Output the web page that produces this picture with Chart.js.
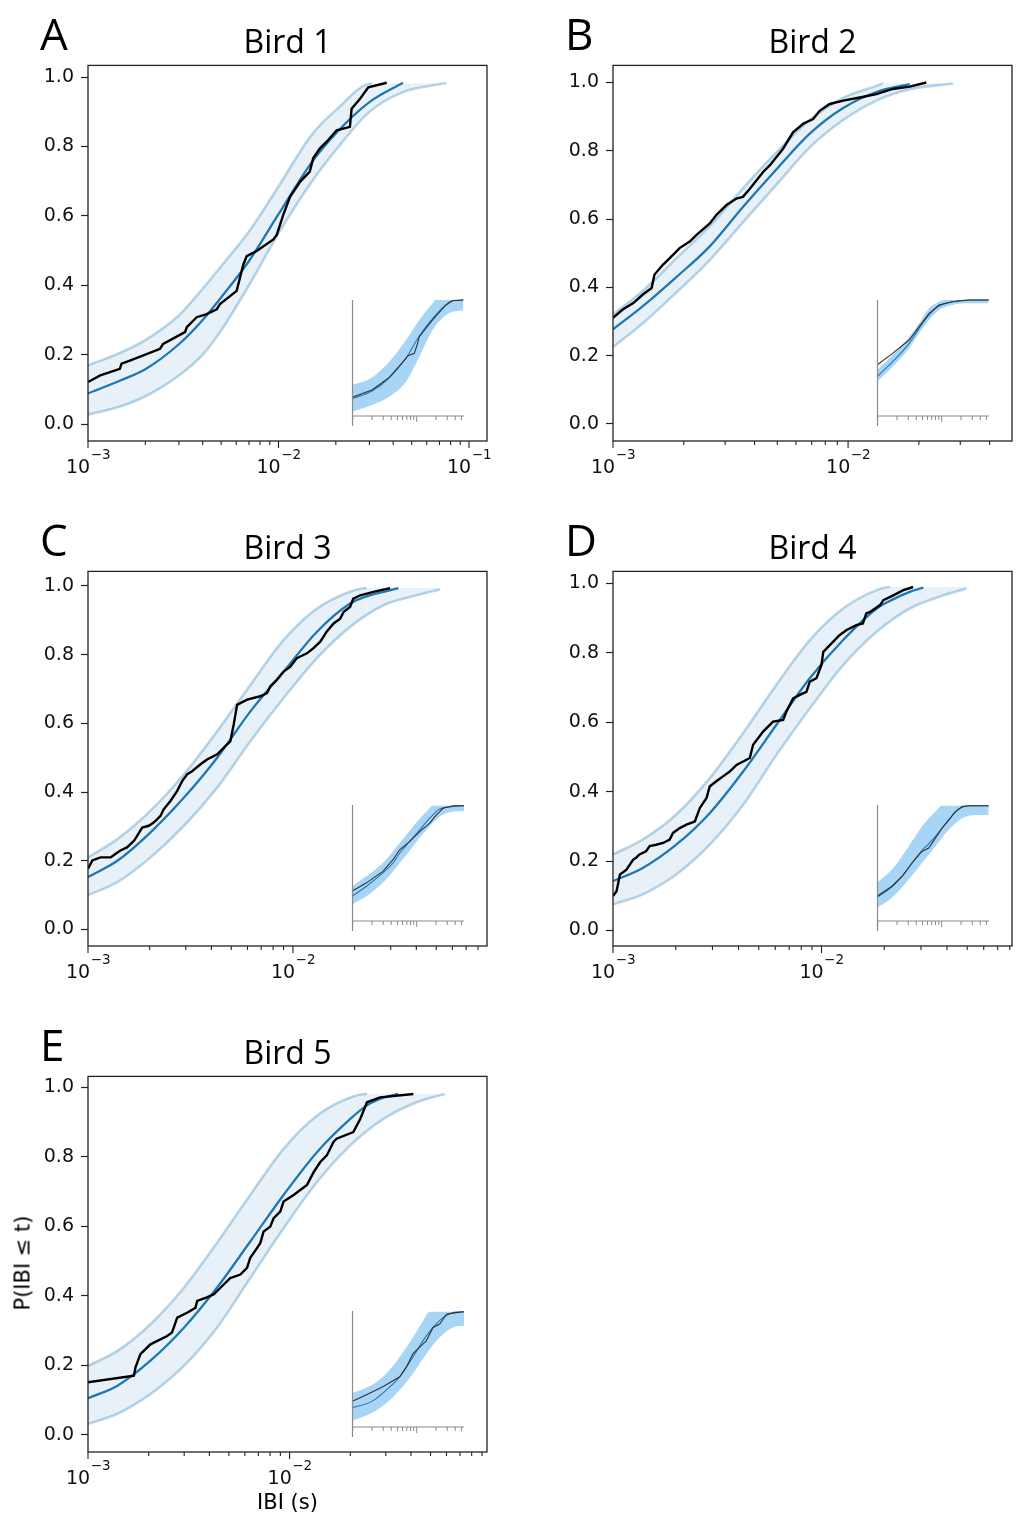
<!DOCTYPE html>
<html>
<head>
<meta charset="utf-8">
<script src="https://cdn.jsdelivr.net/npm/chart.js@4.4.1/dist/chart.umd.min.js"></script>
<style>
  body { margin: 0; background: #fff; }
  #fig { position: relative; width: 1019px; height: 1520px; overflow: hidden; background: #fff; }
  #fig canvas { position: absolute; }
  .txt { position: absolute; line-height: 1; white-space: nowrap; color: #000; }
</style>
</head>
<body>
<div id="fig"></div>
<script>
// tick labels / tick positions
const yTicks = [0, 0.2, 0.4, 0.6, 0.8, 1.0];
const xDecades = [0.001, 0.01, 0.1];
const xMinorMult = [2, 3, 4, 5, 6, 7, 8, 9];
const insetTicks = [0.001, 0.002, 0.003, 0.004, 0.005, 0.006, 0.007, 0.008, 0.009, 0.01, 0.02, 0.03, 0.04, 0.05];

// ---- Bird 1 (A)
const meanXA = [0.001, 0.0015, 0.002, 0.003, 0.004, 0.005, 0.007, 0.01, 0.015, 0.02, 0.03, 0.045];
const meanYA = [0.088, 0.127, 0.158, 0.23, 0.30, 0.365, 0.47, 0.605, 0.756, 0.838, 0.928, 0.984];
const hiXA = [0.001, 0.0015, 0.002, 0.003, 0.004, 0.005, 0.007, 0.01, 0.015, 0.02, 0.031];
const hiYA = [0.169, 0.207, 0.242, 0.313, 0.39, 0.455, 0.555, 0.685, 0.835, 0.905, 0.982];
const loXA = [0.001, 0.0015, 0.002, 0.003, 0.004, 0.005, 0.007, 0.01, 0.015, 0.02, 0.03, 0.045, 0.076];
const loYA = [0.027, 0.052, 0.08, 0.14, 0.20, 0.27, 0.40, 0.55, 0.70, 0.79, 0.90, 0.957, 0.983];
const obsXA = [0.001, 0.00116, 0.00147, 0.0015, 0.00166, 0.00239, 0.00248, 0.00323, 0.0033, 0.00372, 0.0042, 0.00474, 0.00493, 0.00603, 0.00654, 0.00681, 0.00768, 0.0094, 0.0098, 0.0106, 0.0115, 0.013, 0.0146, 0.0152, 0.0165, 0.0179, 0.0202, 0.0237, 0.0242, 0.0268, 0.0296, 0.037];
const obsYA = [0.121, 0.14, 0.159, 0.174, 0.183, 0.217, 0.231, 0.265, 0.279, 0.308, 0.317, 0.331, 0.346, 0.384, 0.46, 0.484, 0.499, 0.532, 0.546, 0.604, 0.655, 0.699, 0.728, 0.766, 0.795, 0.814, 0.847, 0.857, 0.909, 0.938, 0.971, 0.984];
const insObsXA = [0.000975, 0.002, 0.00373, 0.00681, 0.00721, 0.00917, 0.01033, 0.01099, 0.0177, 0.0287, 0.0364, 0.0535];
const insObsYA = [0.161, 0.224, 0.333, 0.497, 0.517, 0.54, 0.627, 0.684, 0.828, 0.957, 0.994, 1.0];
const insMeanXA = [0.000975, 0.002, 0.00373, 0.00681, 0.01099, 0.0177, 0.0287, 0.0364, 0.0535];
const insMeanYA = [0.15, 0.215, 0.33, 0.50, 0.69, 0.84, 0.96, 0.995, 1.0];
const insHiXA = [0.000975, 0.002, 0.00373, 0.00681, 0.01099, 0.0177, 0.0197, 0.0535];
const insHiYA = [0.267, 0.333, 0.468, 0.655, 0.828, 0.971, 1.0, 1.0];
const insLoXA = [0.000975, 0.002, 0.00373, 0.00681, 0.01099, 0.0177, 0.0287, 0.042, 0.0535];
const insLoYA = [0.037, 0.095, 0.167, 0.296, 0.511, 0.741, 0.871, 0.905, 0.91];

// ---- Bird 2 (B)
const meanXB = [0.001, 0.00134, 0.00186, 0.00258, 0.00357, 0.00495, 0.00687, 0.00953, 0.0132, 0.0183];
const meanYB = [0.277, 0.345, 0.43, 0.52, 0.635, 0.745, 0.85, 0.925, 0.972, 0.995];
const hiXB = [0.001, 0.00134, 0.00186, 0.00258, 0.00357, 0.00495, 0.00687, 0.00953, 0.0132, 0.0141];
const hiYB = [0.32, 0.39, 0.485, 0.58, 0.69, 0.795, 0.89, 0.955, 0.99, 0.997];
const loXB = [0.001, 0.00134, 0.00186, 0.00258, 0.00357, 0.00495, 0.00687, 0.00953, 0.0132, 0.0183, 0.028];
const loYB = [0.225, 0.295, 0.385, 0.48, 0.59, 0.70, 0.81, 0.89, 0.947, 0.98, 0.997];
const obsXB = [0.001, 0.0011, 0.00122, 0.00134, 0.00146, 0.0015, 0.00163, 0.0018, 0.00192, 0.00212, 0.00226, 0.00258, 0.00275, 0.00304, 0.00335, 0.00357, 0.00382, 0.00435, 0.00464, 0.00529, 0.00583, 0.00644, 0.0071, 0.00757, 0.00835, 0.00953, 0.0112, 0.0132, 0.0155, 0.0183, 0.0215];
const obsYB = [0.311, 0.335, 0.354, 0.379, 0.398, 0.437, 0.466, 0.495, 0.515, 0.534, 0.553, 0.587, 0.612, 0.641, 0.66, 0.665, 0.689, 0.738, 0.757, 0.806, 0.854, 0.879, 0.893, 0.917, 0.937, 0.947, 0.956, 0.966, 0.981, 0.988, 1.0];
const insObsXB = [0.000976, 0.00171, 0.0031, 0.00444, 0.00635, 0.00908, 0.0147, 0.0266, 0.0542];
const insObsYB = [0.44, 0.54, 0.655, 0.77, 0.885, 0.957, 0.985, 1.0, 1.0];
const insMeanXB = [0.000976, 0.00171, 0.0031, 0.00444, 0.00635, 0.00908, 0.0147, 0.0266, 0.0542];
const insMeanYB = [0.339, 0.468, 0.626, 0.756, 0.871, 0.948, 0.985, 1.0, 1.0];
const insHiXB = [0.000976, 0.00171, 0.0031, 0.00444, 0.00635, 0.00908, 0.01151, 0.0542];
const insHiYB = [0.397, 0.526, 0.684, 0.799, 0.928, 0.985, 1.0, 1.0];
const insLoXB = [0.000976, 0.00171, 0.0031, 0.00444, 0.00635, 0.00908, 0.0147, 0.0266, 0.0542];
const insLoYB = [0.296, 0.425, 0.584, 0.713, 0.828, 0.914, 0.957, 0.971, 0.971];

// ---- Bird 3 (C)
const meanXC = [0.001, 0.00139, 0.00202, 0.00294, 0.00427, 0.0062, 0.00901, 0.0131, 0.019, 0.0229, 0.0277, 0.0327];
const meanYC = [0.153, 0.20, 0.283, 0.384, 0.50, 0.635, 0.751, 0.867, 0.949, 0.97, 0.983, 0.994];
const hiXC = [0.001, 0.00139, 0.00202, 0.00294, 0.00427, 0.0062, 0.00901, 0.0131, 0.019, 0.0229];
const hiYC = [0.21, 0.263, 0.346, 0.452, 0.577, 0.712, 0.843, 0.934, 0.983, 0.994];
const loXC = [0.001, 0.00139, 0.00202, 0.00294, 0.00427, 0.0062, 0.00901, 0.0131, 0.019, 0.0277, 0.0402, 0.0522];
const loYC = [0.10, 0.138, 0.21, 0.302, 0.413, 0.548, 0.674, 0.79, 0.881, 0.944, 0.973, 0.99];
const obsXC = [0.001, 0.00105, 0.00115, 0.00129, 0.00136, 0.00144, 0.00155, 0.00168, 0.00174, 0.00184, 0.00198, 0.0021, 0.00226, 0.00234, 0.00253, 0.00272, 0.00288, 0.00305, 0.00322, 0.00354, 0.00381, 0.00427, 0.00477, 0.00495, 0.00514, 0.00534, 0.00597, 0.00693, 0.00747, 0.00776, 0.00836, 0.00901, 0.00971, 0.01045, 0.0117, 0.0126, 0.0136, 0.0146, 0.0158, 0.017, 0.0177, 0.019, 0.0197, 0.0213, 0.0247, 0.0298];
const obsYC = [0.177, 0.201, 0.21, 0.21, 0.22, 0.23, 0.239, 0.259, 0.273, 0.297, 0.302, 0.312, 0.331, 0.35, 0.375, 0.403, 0.432, 0.452, 0.461, 0.481, 0.495, 0.51, 0.539, 0.548, 0.597, 0.654, 0.669, 0.679, 0.688, 0.708, 0.727, 0.751, 0.765, 0.79, 0.804, 0.819, 0.838, 0.867, 0.891, 0.905, 0.925, 0.939, 0.963, 0.973, 0.983, 0.994];
const insObsXC = [0.000975, 0.00164, 0.00296, 0.00427, 0.00542, 0.00778, 0.01114, 0.016, 0.0203, 0.0258, 0.0369, 0.0548];
const insObsYC = [0.257, 0.329, 0.428, 0.529, 0.614, 0.686, 0.771, 0.843, 0.914, 0.972, 0.994, 0.994];
const insMeanXC = [0.000975, 0.00164, 0.00296, 0.00427, 0.00542, 0.00778, 0.01114, 0.016, 0.0229, 0.0548];
const insMeanYC = [0.214, 0.30, 0.415, 0.50, 0.586, 0.686, 0.786, 0.886, 0.966, 0.994];
const insHiXC = [0.000975, 0.00164, 0.00296, 0.00542, 0.00875, 0.0142, 0.018, 0.0548];
const insHiYC = [0.30, 0.386, 0.50, 0.672, 0.814, 0.943, 0.994, 0.994];
const insLoXC = [0.000975, 0.00164, 0.00296, 0.00542, 0.00875, 0.0142, 0.0229, 0.0369, 0.0548];
const insLoYC = [0.143, 0.214, 0.329, 0.50, 0.643, 0.786, 0.90, 0.943, 0.949];

// ---- Bird 4 (D)
const meanXD = [0.001, 0.00139, 0.00201, 0.00291, 0.00421, 0.00608, 0.00879, 0.0127, 0.0184, 0.0213, 0.0265, 0.0308];
const meanYD = [0.142, 0.18, 0.247, 0.338, 0.458, 0.593, 0.727, 0.837, 0.928, 0.95, 0.976, 0.988];
const hiXD = [0.001, 0.00139, 0.00201, 0.00291, 0.00421, 0.00608, 0.00879, 0.0127, 0.0184, 0.0213];
const hiYD = [0.219, 0.262, 0.334, 0.439, 0.569, 0.708, 0.837, 0.928, 0.981, 0.99];
const loXD = [0.001, 0.00139, 0.00201, 0.00291, 0.00421, 0.00608, 0.00879, 0.0127, 0.0184, 0.0265, 0.0384, 0.0497];
const loYD = [0.075, 0.104, 0.161, 0.247, 0.362, 0.506, 0.64, 0.765, 0.861, 0.928, 0.966, 0.986];
const obsXD = [0.001, 0.00104, 0.00108, 0.00116, 0.00125, 0.00129, 0.00134, 0.00144, 0.0015, 0.00161, 0.00174, 0.00187, 0.00194, 0.00209, 0.00225, 0.00247, 0.00261, 0.00281, 0.00291, 0.00313, 0.00337, 0.00363, 0.00391, 0.00421, 0.00453, 0.0047, 0.00525, 0.00586, 0.00655, 0.00679, 0.00731, 0.00787, 0.00847, 0.00879, 0.00946, 0.01, 0.0102, 0.011, 0.0122, 0.0132, 0.0147, 0.0158, 0.0164, 0.0171, 0.0191, 0.0198, 0.0221, 0.0247, 0.0275];
const obsYD = [0.099, 0.113, 0.161, 0.175, 0.204, 0.209, 0.219, 0.228, 0.243, 0.247, 0.252, 0.262, 0.281, 0.295, 0.305, 0.314, 0.353, 0.382, 0.415, 0.43, 0.444, 0.458, 0.477, 0.487, 0.497, 0.535, 0.573, 0.602, 0.607, 0.631, 0.669, 0.679, 0.688, 0.717, 0.727, 0.765, 0.803, 0.823, 0.851, 0.866, 0.88, 0.885, 0.914, 0.918, 0.938, 0.952, 0.966, 0.981, 0.99];
const insObsXD = [0.000975, 0.00167, 0.00241, 0.00344, 0.00492, 0.00626, 0.00798, 0.01011, 0.01286, 0.0164, 0.0208, 0.0264, 0.0542];
const insObsYD = [0.214, 0.30, 0.386, 0.50, 0.60, 0.629, 0.714, 0.80, 0.871, 0.943, 0.986, 0.994, 0.994];
const insMeanXD = [0.000975, 0.00167, 0.00241, 0.00344, 0.00492, 0.00626, 0.00798, 0.01011, 0.01286, 0.0164, 0.0208, 0.0264, 0.0542];
const insMeanYD = [0.205, 0.295, 0.385, 0.50, 0.61, 0.665, 0.73, 0.80, 0.87, 0.94, 0.98, 0.994, 0.994];
const insHiXD = [0.000975, 0.00167, 0.00305, 0.00492, 0.00798, 0.01011, 0.0542];
const insHiYD = [0.329, 0.443, 0.643, 0.814, 0.943, 0.994, 0.994];
const insLoXD = [0.000975, 0.00167, 0.00305, 0.00492, 0.00798, 0.01286, 0.0208, 0.0336, 0.0542];
const insLoYD = [0.114, 0.20, 0.357, 0.50, 0.643, 0.786, 0.886, 0.914, 0.914];

// ---- Bird 5 (E)
const meanXE = [0.001, 0.0014, 0.00204, 0.00299, 0.00436, 0.00638, 0.00933, 0.0137, 0.02, 0.0242, 0.0292, 0.0346];
const meanYE = [0.105, 0.141, 0.213, 0.308, 0.423, 0.556, 0.69, 0.814, 0.909, 0.948, 0.97, 0.981];
const hiXE = [0.001, 0.0014, 0.00204, 0.00299, 0.00436, 0.00638, 0.00933, 0.0137, 0.02, 0.0242];
const hiYE = [0.198, 0.241, 0.318, 0.423, 0.552, 0.69, 0.823, 0.919, 0.971, 0.981];
const loXE = [0.001, 0.0014, 0.00204, 0.00299, 0.00436, 0.00638, 0.00933, 0.0137, 0.02, 0.0292, 0.0427, 0.059];
const loYE = [0.031, 0.06, 0.117, 0.198, 0.308, 0.451, 0.594, 0.728, 0.833, 0.909, 0.957, 0.981];
const obsXE = [0.001, 0.00169, 0.00172, 0.00182, 0.00204, 0.00247, 0.00261, 0.00277, 0.0031, 0.00341, 0.00348, 0.00383, 0.00421, 0.00454, 0.0049, 0.00508, 0.0057, 0.00615, 0.00638, 0.00689, 0.00716, 0.00743, 0.00802, 0.00833, 0.00899, 0.00933, 0.01047, 0.0122, 0.0132, 0.0142, 0.0153, 0.0165, 0.0171, 0.0207, 0.0224, 0.0242, 0.0281, 0.0411];
const obsYE = [0.151, 0.17, 0.194, 0.232, 0.26, 0.284, 0.294, 0.337, 0.351, 0.365, 0.385, 0.394, 0.404, 0.423, 0.442, 0.451, 0.461, 0.48, 0.509, 0.537, 0.552, 0.585, 0.599, 0.623, 0.642, 0.671, 0.69, 0.719, 0.757, 0.785, 0.804, 0.843, 0.852, 0.871, 0.909, 0.957, 0.971, 0.981];
const insObsXE = [0.000975, 0.00164, 0.00296, 0.00542, 0.00691, 0.00875, 0.01114, 0.0142, 0.018, 0.0229, 0.0291, 0.0417, 0.0548];
const insObsYE = [0.221, 0.278, 0.348, 0.433, 0.518, 0.632, 0.688, 0.745, 0.858, 0.887, 0.972, 0.986, 0.994];
const insMeanXE = [0.000975, 0.002, 0.00336, 0.00542, 0.00875, 0.01259, 0.018, 0.0258, 0.0369, 0.0548];
const insMeanYE = [0.165, 0.221, 0.32, 0.433, 0.603, 0.745, 0.858, 0.943, 0.986, 0.994];
const insHiXE = [0.000975, 0.002, 0.00336, 0.00542, 0.00875, 0.01259, 0.016, 0.0548];
const insHiYE = [0.292, 0.363, 0.462, 0.603, 0.773, 0.915, 0.994, 0.994];
const insLoXE = [0.000975, 0.002, 0.00336, 0.00542, 0.00875, 0.0142, 0.0229, 0.0369, 0.0548];
const insLoYE = [0.051, 0.122, 0.207, 0.32, 0.462, 0.632, 0.773, 0.858, 0.873];

Chart.defaults.font.family = '"DejaVu Sans", sans-serif';

const fig = document.getElementById('fig');
const TICK = '#222';

function pts(xs, ys) {
  const n = Math.min(xs.length, ys.length);
  const out = [];
  for (let i = 0; i < n; i++) out.push({ x: xs[i], y: ys[i] });
  return out;
}

// frame + log x ticks with 10^n labels
const mainDecor = {
  id: 'mainDecor',
  afterDraw(chart) {
    const { ctx, chartArea: a } = chart;
    const x = chart.scales.x;
    ctx.save();
    ctx.strokeStyle = TICK;
    ctx.lineWidth = 1.3;
    ctx.strokeRect(a.left, a.top, a.right - a.left, a.bottom - a.top);
    ctx.lineWidth = 1.1;
    xDecades.forEach(d => {
      [1].concat(xMinorMult).forEach(m => {
        const v = d * m;
        if (v < x.min * 0.999 || v > x.max) return;
        const px = x.getPixelForValue(v);
        ctx.beginPath();
        ctx.moveTo(px, a.bottom);
        ctx.lineTo(px, a.bottom + (m === 1 ? 7 : 4));
        ctx.stroke();
        if (m === 1) {
          const sup = '\u2212' + Math.round(-Math.log10(v));
          ctx.font = '19px "DejaVu Sans"';
          const w1 = ctx.measureText('10').width;
          ctx.font = '13.5px "DejaVu Sans"';
          const w2 = ctx.measureText(sup).width;
          const x0 = px - (w1 + w2) / 2;
          ctx.fillStyle = '#111';
          ctx.textAlign = 'left';
          ctx.textBaseline = 'alphabetic';
          ctx.font = '19px "DejaVu Sans"';
          ctx.fillText('10', x0, a.bottom + 32);
          ctx.font = '13.5px "DejaVu Sans"';
          ctx.fillText(sup, x0 + w1 + 0.5, a.bottom + 18);
        }
      });
    });
    ctx.restore();
  }
};

const insetDecor = {
  id: 'insetDecor',
  afterDraw(chart) {
    const { ctx, chartArea: a } = chart;
    const x = chart.scales.x, y = chart.scales.y;
    const y0 = y.getPixelForValue(0);
    ctx.save();
    ctx.strokeStyle = '#8a8a8a';
    ctx.lineWidth = 1.2;
    ctx.beginPath();
    ctx.moveTo(a.left + 0.5, a.top);
    ctx.lineTo(a.left + 0.5, a.bottom);
    ctx.moveTo(a.left, y0);
    ctx.lineTo(a.right, y0);
    ctx.stroke();
    ctx.lineWidth = 1;
    insetTicks.forEach(v => {
      if (v < x.min || v > x.max) return;
      const px = x.getPixelForValue(v);
      ctx.beginPath();
      ctx.moveTo(px, y0);
      ctx.lineTo(px, y0 + (v === 0.01 ? 6 : 4));
      ctx.stroke();
    });
    ctx.restore();
  }
};

function makeMain(p) {
  const padL = 70, padT = 16, padR = 16, axH = 44;
  const [L, T, R, B] = p.box;
  const cv = document.createElement('canvas');
  cv.width = R - L + padL + padR;
  cv.height = B - T + padT + axH;
  cv.style.left = (L - padL) + 'px';
  cv.style.top = (T - padT) + 'px';
  fig.appendChild(cv);

  const hi = pts(p.hiX, p.hiY);
  // close the band along its top up to where the lower edge ends
  hi.push({ x: p.loX[p.loX.length - 1], y: hi[hi.length - 1].y });
  const hiLast = hi.length - 1;
  const edge = 'rgba(31,119,180,0.3)';

  new Chart(cv, {
    type: 'line',
    data: {
      datasets: [
        { data: pts(p.obsX, p.obsY), borderColor: '#000', borderWidth: 2.4, pointRadius: 0, tension: 0, fill: false, order: 0 },
        { data: pts(p.meanX, p.meanY), borderColor: '#1f77b4', borderWidth: 2.3, pointRadius: 0, cubicInterpolationMode: 'monotone', fill: false, order: 1 },
        { data: hi, borderColor: edge, borderWidth: 2.6, pointRadius: 0, cubicInterpolationMode: 'monotone',
          fill: '+1', backgroundColor: 'rgba(31,119,180,0.1)', order: 2,
          segment: { borderColor: c => c.p1DataIndex === hiLast ? 'rgba(0,0,0,0)' : undefined } },
        { data: pts(p.loX, p.loY), borderColor: edge, borderWidth: 2.6, pointRadius: 0, cubicInterpolationMode: 'monotone', fill: false, order: 3 }
      ]
    },
    options: {
      responsive: false,
      animation: false,
      devicePixelRatio: 1,
      layout: { padding: { left: 0, top: padT, right: padR, bottom: 0 } },
      plugins: { legend: { display: false }, tooltip: { enabled: false }, filler: { drawTime: 'beforeDatasetsDraw' } },
      scales: {
        x: {
          type: 'logarithmic', min: 0.001, max: p.xMax,
          grid: { display: false }, ticks: { display: false }, border: { display: false },
          afterFit(s) { s.height = axH; }
        },
        y: {
          type: 'linear', min: p.yMin, max: p.yMax,
          afterBuildTicks(s) { s.ticks = yTicks.map(v => ({ value: v })); },
          ticks: { color: '#111', font: { size: 19 }, padding: 7, callback: v => Number(v).toFixed(1) },
          grid: { display: true, drawOnChartArea: false, drawTicks: true, tickLength: 7, tickWidth: 1.2, tickColor: TICK },
          border: { display: false },
          afterFit(s) { s.width = padL; }
        }
      }
    },
    plugins: [mainDecor]
  });

  // inset, lower right corner of the axes
  const il = R - 135, ir = R - 23, itop = B - 141, ib = B - 15, pad = 4;
  const ic = document.createElement('canvas');
  ic.width = ir - il + 2 * pad;
  ic.height = ib - itop + 2 * pad;
  ic.style.left = (il - pad) + 'px';
  ic.style.top = (itop - pad) + 'px';
  fig.appendChild(ic);
  new Chart(ic, {
    type: 'line',
    data: {
      datasets: [
        { data: pts(p.insObsX, p.insObsY), borderColor: '#333', borderWidth: 1.1, pointRadius: 0, tension: 0, fill: false, order: 0, clip: 3 },
        { data: pts(p.insMeanX, p.insMeanY), borderColor: '#1f77b4', borderWidth: 1.1, pointRadius: 0, cubicInterpolationMode: 'monotone', fill: false, order: 1, clip: 3 },
        { data: pts(p.insHiX, p.insHiY), borderColor: 'rgba(0,0,0,0)', borderWidth: 0, pointRadius: 0, cubicInterpolationMode: 'monotone',
          fill: '+1', backgroundColor: 'rgba(110,185,240,0.6)', order: 2, clip: 3 },
        { data: pts(p.insLoX, p.insLoY), borderColor: 'rgba(0,0,0,0)', borderWidth: 0, pointRadius: 0, cubicInterpolationMode: 'monotone', fill: false, order: 3, clip: 3 }
      ]
    },
    options: {
      responsive: false,
      animation: false,
      devicePixelRatio: 1,
      layout: { padding: pad },
      plugins: { legend: { display: false }, tooltip: { enabled: false }, filler: { drawTime: 'beforeDatasetsDraw' } },
      scales: {
        x: { type: 'logarithmic', min: 0.000975, max: 0.0548, display: false },
        y: { type: 'linear', min: -0.086, max: 1.0, display: false }
      }
    },
    plugins: [insetDecor]
  });

  addText(p.letter, p.box[0] - 48, p.box[1] - 15, 44, 'left');
  addText(p.title, (p.box[0] + p.box[2]) / 2, p.box[1] - 11, 32, 'center');
}

function addText(s, x, baseline, size, align, family) {
  const d = document.createElement('div');
  d.className = 'txt';
  d.textContent = s;
  d.style.fontFamily = family || '"Open Sans", sans-serif';
  d.style.fontSize = size + 'px';
  d.style.top = (baseline - 0.846 * size) + 'px';
  d.style.left = x + 'px';
  if (align === 'center') d.style.transform = 'translateX(-50%)';
  fig.appendChild(d);
  return d;
}

const panels = [
  { letter: 'A', title: 'Bird 1', box: [88, 63, 487, 441], xMax: 0.1243, yMin: -0.049, yMax: 1.034,
    meanX: meanXA, meanY: meanYA, hiX: hiXA, hiY: hiYA, loX: loXA, loY: loYA, obsX: obsXA, obsY: obsYA,
    insObsX: insObsXA, insObsY: insObsYA, insMeanX: insMeanXA, insMeanY: insMeanYA, insHiX: insHiXA, insHiY: insHiYA, insLoX: insLoXA, insLoY: insLoYA },
  { letter: 'B', title: 'Bird 2', box: [613, 63, 1012, 441], xMax: 0.0498, yMin: -0.05, yMax: 1.05,
    meanX: meanXB, meanY: meanYB, hiX: hiXB, hiY: hiYB, loX: loXB, loY: loYB, obsX: obsXB, obsY: obsYB,
    insObsX: insObsXB, insObsY: insObsYB, insMeanX: insMeanXB, insMeanY: insMeanYB, insHiX: insHiXB, insHiY: insHiYB, insLoX: insLoXB, insLoY: insLoYB },
  { letter: 'C', title: 'Bird 3', box: [88, 569, 487, 946], xMax: 0.0885, yMin: -0.048, yMax: 1.0425,
    meanX: meanXC, meanY: meanYC, hiX: hiXC, hiY: hiYC, loX: loXC, loY: loYC, obsX: obsXC, obsY: obsYC,
    insObsX: insObsXC, insObsY: insObsYC, insMeanX: insMeanXC, insMeanY: insMeanYC, insHiX: insHiXC, insHiY: insHiYC, insLoX: insLoXC, insLoY: insLoYC },
  { letter: 'D', title: 'Bird 4', box: [613, 569, 1012, 946], xMax: 0.082, yMin: -0.045, yMax: 1.035,
    meanX: meanXD, meanY: meanYD, hiX: hiXD, hiY: hiYD, loX: loXD, loY: loYD, obsX: obsXD, obsY: obsYD,
    insObsX: insObsXD, insObsY: insObsYD, insMeanX: insMeanXD, insMeanY: insMeanYD, insHiX: insHiXD, insHiY: insHiYD, insLoX: insLoXD, insLoY: insLoYD },
  { letter: 'E', title: 'Bird 5', box: [88, 1074, 487, 1452], xMax: 0.0953, yMin: -0.05, yMax: 1.0315,
    meanX: meanXE, meanY: meanYE, hiX: hiXE, hiY: hiYE, loX: loXE, loY: loYE, obsX: obsXE, obsY: obsYE,
    insObsX: insObsXE, insObsY: insObsYE, insMeanX: insMeanXE, insMeanY: insMeanYE, insHiX: insHiXE, insHiY: insHiYE, insLoX: insLoXE, insLoY: insLoYE }
];

panels.forEach(makeMain);

// axis titles (bottom-left panel only)
addText('IBI (s)', 287.5, 1510, 21, 'center', '"DejaVu Sans", sans-serif');
const yl = addText('P(IBI \u2264 t)', 23, 1263, 21, 'left', '"DejaVu Sans", sans-serif');
yl.style.top = '1263px';
yl.style.transformOrigin = '0 0';
yl.style.transform = 'rotate(-90deg) translate(-50%, -50%)';
</script>
</body>
</html>
